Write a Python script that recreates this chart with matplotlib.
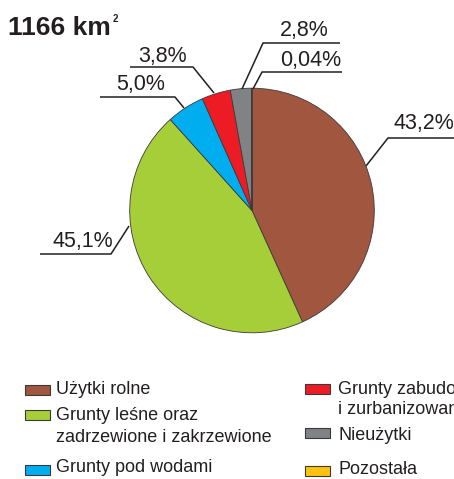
import matplotlib
matplotlib.use("Agg")
import matplotlib.pyplot as plt
from matplotlib.patches import Rectangle

plt.rcParams['font.family'] = ['Liberation Sans', 'DejaVu Sans']

# Data
categories = ["Użytki rolne", "Grunty leśne oraz\nzadrzewione i zakrzewione",
              "Grunty pod wodami", "Grunty zabudowane\ni zurbanizowane",
              "Nieużytki", "Pozostała"]
values = [43.2, 45.1, 5.0, 3.8, 2.8, 0.04]
pct_labels = ["43,2%", "45,1%", "5,0%", "3,8%", "2,8%", "0,04%"]
colors = ["#A0563F", "#A6CE39", "#00AEEF", "#ED1C24", "#808285", "#FFC20E"]
title = "1166 km"

W, H = 454, 479
fig = plt.figure(figsize=(W / 100, H / 100), dpi=100)
ax = fig.add_axes([0, 0, 1, 1])

def Y(y):
    return H - y

cx, cy, r = 252, 210.5, 122.3
ax.pie(values, colors=colors, startangle=90, counterclock=False,
       center=(cx, Y(cy)), radius=r,
       wedgeprops=dict(edgecolor="#3a3a3a", linewidth=0.6))
ax.set_xlim(0, W)
ax.set_ylim(0, H)
ax.set_aspect('auto')
ax.axis('off')

# leader lines: (start on pie, elbow, end of horizontal), label position
leaders = [
    ((366, 166), (388, 138), (456, 138), (393, 129), 'left'),    # 43,2
    ((129, 226), (111, 254), (40, 254), (113, 247), 'right'),    # 45,1
    ((184, 108), (175, 97), (100, 97), (116, 90), 'left'),       # 5,0
    ((214, 93), (193, 67), (130, 67), (138, 62), 'left'),        # 3,8
    ((242, 89), (263, 43), (340, 43), (280, 36), 'left'),        # 2,8
    ((253, 89), (262, 72), (342, 72), (280, 66), 'left'),        # 0,04
]
for lab, (p0, p1, p2, tp, ha) in zip(pct_labels, leaders):
    ax.plot([p0[0], p1[0], p2[0]], [Y(p0[1]), Y(p1[1]), Y(p2[1])],
            color="#231F20", lw=1.1, solid_capstyle='butt', clip_on=False)
    ax.text(tp[0], Y(tp[1]), lab, ha=ha, va='baseline', fontsize=15.5,
            color="#231F20")

# Title
ax.text(8, Y(35), title, ha='left', va='baseline', fontsize=19,
        fontweight='bold', color="#231F20")
ax.text(113, Y(22), "2", ha='left', va='baseline', fontsize=7,
        fontweight='bold', color="#231F20")

# Legend: (index, patch x, patch top y, text x, line centre ys)
legend_items = [
    (0, 25, 385, 56, [390]),
    (1, 25, 410, 56, [415, 437]),
    (2, 25, 465, 56, [468]),
    (3, 305, 384, 338, [390, 409]),
    (4, 305, 428, 338, [436]),
    (5, 305, 466, 338, [469]),
]
for idx, px, py, tx, tys in legend_items:
    ax.add_patch(Rectangle((px, Y(py + 10)), 25, 10, facecolor=colors[idx],
                           edgecolor="#3a3a3a", lw=0.8, clip_on=False))
    for line, ty in zip(categories[idx].split("\n"), tys):
        ax.text(tx, Y(ty), line, ha='left', va='center', fontsize=13,
                color="#231F20")

fig.savefig("out.png", dpi=100)
